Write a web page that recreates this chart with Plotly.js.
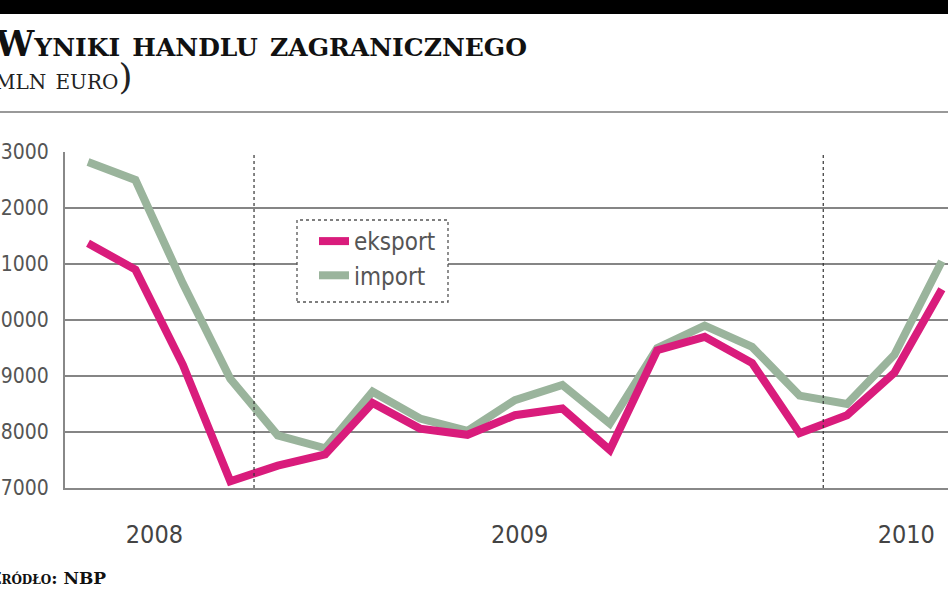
<!DOCTYPE html>
<html>
<head>
<meta charset="utf-8">
<script src="https://cdn.plot.ly/plotly-3.0.1.min.js"></script>
<style>html,body{margin:0;padding:0;background:#fff;}#chart{width:948px;height:593px;}</style>
</head>
<body>
<div id="chart"></div>
<script>
// Months: IX 2008 ... III 2010
const months = ["2008-09","2008-10","2008-11","2008-12",
  "2009-01","2009-02","2009-03","2009-04","2009-05","2009-06",
  "2009-07","2009-08","2009-09","2009-10","2009-11","2009-12",
  "2010-01","2010-02","2010-03"];
const eksport = [11370,10900,9200,7120,7400,7600,8520,8060,7950,8300,8420,7680,9460,9700,9230,7980,8300,9060,10550];
const imp = [12820,12500,10650,8950,7940,7710,8720,8240,8020,8570,8840,8150,9500,9900,9520,8650,8500,9380,11050];
const yearLabels = ["2008","2009","2010"];
const yearLabelPos = [1.4, 9.1, 17.25];
const yearBoundaries = [3.5, 15.5];
const yTicks = [7000,8000,9000,10000,11000,12000,13000];

const xIdx = months.map((m,i)=>i);
const numFont = "'Liberation Sans Narrow', 'Arial Narrow', 'DejaVu Sans Condensed', sans-serif";

const traces = [
  {x:xIdx, y:imp, name:"import", type:"scatter", mode:"lines",
   line:{color:"#9ab49c", width:8}},
  {x:xIdx, y:eksport, name:"eksport", type:"scatter", mode:"lines",
   line:{color:"#d91c7c", width:8}}
];

const L = 65, W = 883, B = 488, H = 336;
const px = v => (v - L)/W;
const py = v => (B - v)/H;

const shapes = [
  {type:"rect", xref:"paper", yref:"paper", x0:px(-5), x1:1.01, y0:py(14), y1:py(-5), fillcolor:"#000", line:{width:0}, layer:"above"},
  {type:"line", xref:"paper", yref:"paper", x0:px(-5), x1:1.01, y0:py(112), y1:py(112), line:{color:"#999", width:2}},
  {type:"rect", xref:"paper", yref:"paper", x0:px(297), x1:px(448), y0:py(302), y1:py(220), fillcolor:"#fff", line:{color:"#555", width:1.3, dash:"dot"}, layer:"above"}
].concat(yearBoundaries.map(b => ({type:"line", xref:"x", yref:"paper", x0:b, x1:b, y0:0, y1:1, line:{color:"#333", width:1.2, dash:"dot"}})));

const layout = {
  width:948, height:593,
  margin:{l:L, r:0, t:152, b:105},
  paper_bgcolor:"#fff", plot_bgcolor:"#fff",
  showlegend:true,
  legend:{x:px(314), y:py(219), xanchor:"left", yanchor:"top", traceorder:"reversed",
    bgcolor:"rgba(0,0,0,0)", font:{family:numFont, size:24, color:"#555"}, itemwidth:30, tracegroupgap:0},
  xaxis:{range:[-0.485, 18.13], tickmode:"array", tickvals:yearLabelPos, ticktext:yearLabels,
    showgrid:false, zeroline:false, showline:true, linecolor:"#888", linewidth:2,
    ticks:"outside", ticklen:23, tickcolor:"rgba(0,0,0,0)",
    tickfont:{family:numFont, size:25, color:"#444"}, fixedrange:true},
  yaxis:{range:[7000,13000], tickmode:"array", tickvals:yTicks, ticktext:yTicks.map(String),
    showgrid:true, gridcolor:"#858585", gridwidth:2, zeroline:false,
    showline:true, linecolor:"#888", linewidth:2,
    ticks:"outside", ticklen:10, tickcolor:"rgba(0,0,0,0)",
    tickfont:{family:numFont, size:21, color:"#555"}, fixedrange:true},
  shapes:shapes,
  annotations:[
    {xref:"paper", yref:"paper", x:px(-8), y:py(43), xanchor:"left", yanchor:"middle", showarrow:false,
     text:"Wyniki handlu zagranicznego", font:{family:"'DejaVu Serif', serif", size:35, weight:700, variant:"small-caps", color:"#111"}},
    {xref:"paper", yref:"paper", x:px(-21), y:py(77), xanchor:"left", yanchor:"middle", showarrow:false,
     text:"<span style='font-size:36px'>(</span>mln euro<span style='font-size:36px'>)</span>", font:{family:"'DejaVu Serif', serif", size:29, variant:"small-caps", color:"#222"}},
    {xref:"paper", yref:"paper", x:px(-13), y:py(578), xanchor:"left", yanchor:"middle", showarrow:false,
     text:"Źródło: NBP", font:{family:"'DejaVu Serif', serif", size:17, weight:700, variant:"small-caps", color:"#111"}}
  ]
};

Plotly.newPlot("chart", traces, layout, {staticPlot:true, displayModeBar:false});
</script>
</body>
</html>
